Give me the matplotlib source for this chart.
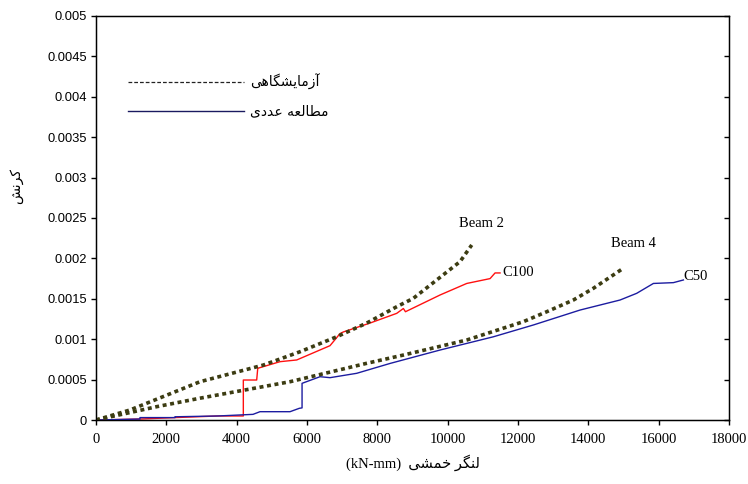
import matplotlib
matplotlib.use("Agg")
import matplotlib.pyplot as plt
from matplotlib.lines import Line2D
from matplotlib.ticker import MultipleLocator, FuncFormatter

# ---------------- data ----------------
beam2_x = [0, 967, 2958, 4758, 5802, 6845, 7700, 8552, 9025, 9689, 10352, 10685]
beam2_y = [0, 0.000124, 0.000474, 0.00068, 0.000845, 0.00103, 0.0012, 0.001402,
           0.001506, 0.001733, 0.00196, 0.002166]

beam4_x = [0, 1726, 2958, 5518, 7700, 8741, 10543, 12153, 12817, 13575, 14144, 14950]
beam4_y = [0, 0.000165, 0.00027, 0.000474, 0.000702, 0.000804, 0.00099, 0.001217,
           0.00134, 0.001485, 0.00163, 0.001865]

c50_x = [0, 1251, 1251, 2247, 2247, 3470, 4465, 4664, 5518, 5783, 5860, 5860, 6371,
         6655, 7414, 8361, 9783, 11300, 12437, 13765, 14902, 15376, 15850, 16419, 16703]
c50_y = [0, 0.000012, 0.00003, 0.00003, 0.00004, 0.00005, 0.00007, 0.000103, 0.000103,
         0.000145, 0.00015, 0.000454, 0.000536, 0.000524, 0.000578, 0.0007, 0.000866,
         0.00103, 0.001176, 0.001361, 0.001485, 0.001568, 0.00169, 0.0017, 0.001733]

c100_x = [0, 1251, 2247, 3470, 4190, 4190, 4570, 4600, 5234, 5708, 6655, 6940, 7035,
          7793, 8552, 8741, 8800, 9783, 10543, 11206, 11348, 11490]
c100_y = [0, 0.000012, 0.00003, 0.00005, 0.00005, 0.000495, 0.000495, 0.00064, 0.000722,
          0.000743, 0.00092, 0.00107, 0.00109, 0.0012, 0.00132, 0.00138, 0.00134,
          0.001547, 0.00169, 0.00175, 0.00182, 0.00182]

x_ticks = [0, 2000, 4000, 6000, 8000, 10000, 12000, 14000, 16000, 18000]
curve_labels = ["Beam 2", "C100", "Beam 4", "C50"]
label_pos = [(10950, 0.00243), (11550, 0.00183), (15270, 0.00218), (16700, 0.00178)]
legend_labels = ["آزمایشگاهی", "مطالعه عددی"]
y_label = "کرنش"
x_label_fa = "لنگر خمشی"
x_label_unit = "(kN-mm)"

# ---------------- simple Persian shaping (presentation forms) ----------------
FORMS = {  # iso, fin, ini, med
    "\u0622": ("\uFE81", "\uFE82"),
    "\u0627": ("\uFE8D", "\uFE8E"),
    "\u0632": ("\uFEAF", "\uFEB0"),
    "\u0631": ("\uFEAD", "\uFEAE"),
    "\u062F": ("\uFEA9", "\uFEAA"),
    "\u0645": ("\uFEE1", "\uFEE2", "\uFEE3", "\uFEE4"),
    "\u0634": ("\uFEB5", "\uFEB6", "\uFEB7", "\uFEB8"),
    "\u0647": ("\uFEE9", "\uFEEA", "\uFEEB", "\uFEEC"),
    "\u0637": ("\uFEC1", "\uFEC2", "\uFEC3", "\uFEC4"),
    "\u0644": ("\uFEDD", "\uFEDE", "\uFEDF", "\uFEE0"),
    "\u0639": ("\uFEC9", "\uFECA", "\uFECB", "\uFECC"),
    "\u0646": ("\uFEE5", "\uFEE6", "\uFEE7", "\uFEE8"),
    "\u062E": ("\uFEA5", "\uFEA6", "\uFEA7", "\uFEA8"),
    "\u06CC": ("\uFBFC", "\uFBFD", "\uFBFE", "\uFBFF"),
    "\u06AF": ("\uFB92", "\uFB93", "\uFB94", "\uFB95"),
    "\u06A9": ("\uFB8E", "\uFB8F", "\uFB90", "\uFB91"),
}


def shape(s):
    out = []
    n = len(s)
    for i, ch in enumerate(s):
        if ch not in FORMS:
            out.append(ch)
            continue
        f = FORMS[ch]
        prev = s[i - 1] if i > 0 else None
        nxt = s[i + 1] if i + 1 < n else None
        jp = prev in FORMS and len(FORMS[prev]) == 4
        jn = len(f) == 4 and nxt in FORMS
        if jp and jn:
            out.append(f[3])
        elif jp:
            out.append(f[1])
        elif jn:
            out.append(f[2])
        else:
            out.append(f[0])
    return "".join(out[::-1])


# ---------------- figure ----------------
fig = plt.figure(figsize=(7.48, 4.84), dpi=100)
ax = fig.add_axes([0.1283, 0.1322, 0.8463, 0.8348])

dot_color = "#3c3c12"
red = "#ff1010"
blue = "#1c1ca0"
dotted = (0, (1.1, 1.0))

ax.plot(c100_x, c100_y, color=red, lw=1.0, zorder=2)
ax.plot(c50_x, c50_y, color=blue, lw=1.0, zorder=3)
ax.plot(beam2_x, beam2_y, color=dot_color, lw=2.6, linestyle=dotted, zorder=4)
ax.plot(beam4_x, beam4_y, color=dot_color, lw=2.6, linestyle=dotted, zorder=4)

ax.set_xlim(0, 18000)
ax.set_ylim(0, 0.005)
ax.set_xticks(x_ticks)
ax.set_xticklabels([str(t) for t in x_ticks], fontfamily="Liberation Serif", fontsize=10.5)
ax.yaxis.set_major_locator(MultipleLocator(0.0005))
ax.yaxis.set_major_formatter(FuncFormatter(lambda v, p: "{:g}".format(round(v, 6))))
for lab in ax.get_yticklabels():
    lab.set_fontfamily("Liberation Sans")
ax.tick_params(axis="y", labelsize=9.3, direction="out", length=3.5, width=1, pad=3)
ax.tick_params(axis="x", direction="out", length=3.5, width=1, pad=6)
for sp in ax.spines.values():
    sp.set_linewidth(1.0)
    sp.set_color("black")

ax2 = ax.twinx()
ax2.set_ylim(0, 0.005)
ax2.yaxis.set_major_locator(MultipleLocator(0.0005))
ax2.tick_params(axis="y", direction="in", length=3.5, width=1, labelright=False)

for txt, (px, py) in zip(curve_labels, label_pos):
    ax.text(px, py, txt, fontfamily="Liberation Serif", fontsize=10.5,
            ha="center" if txt.startswith("Beam") else "left", va="center", zorder=5)

handles = [Line2D([], [], color="#222222", lw=0.9, linestyle=(0, (3.0, 1.6))),
           Line2D([], [], color="#1a1a60", lw=1.0)]
ax.legend(handles, [shape(t) for t in legend_labels], loc="upper left",
          bbox_to_anchor=(0.05, 0.857), frameon=False, handlelength=8.4,
          handletextpad=0.4, labelspacing=1.05, borderpad=0, borderaxespad=0,
          prop={"family": "DejaVu Sans", "size": 10})

ax.set_ylabel(shape(y_label), fontfamily="DejaVu Sans", fontsize=10)
ax.yaxis.set_label_coords(-0.115, 0.58)
ax.set_xlabel(x_label_unit + "  " + shape(x_label_fa),
              fontfamily=["Liberation Serif", "DejaVu Sans"], fontsize=10.5, labelpad=6)

fig.savefig("out.png", dpi=100)
